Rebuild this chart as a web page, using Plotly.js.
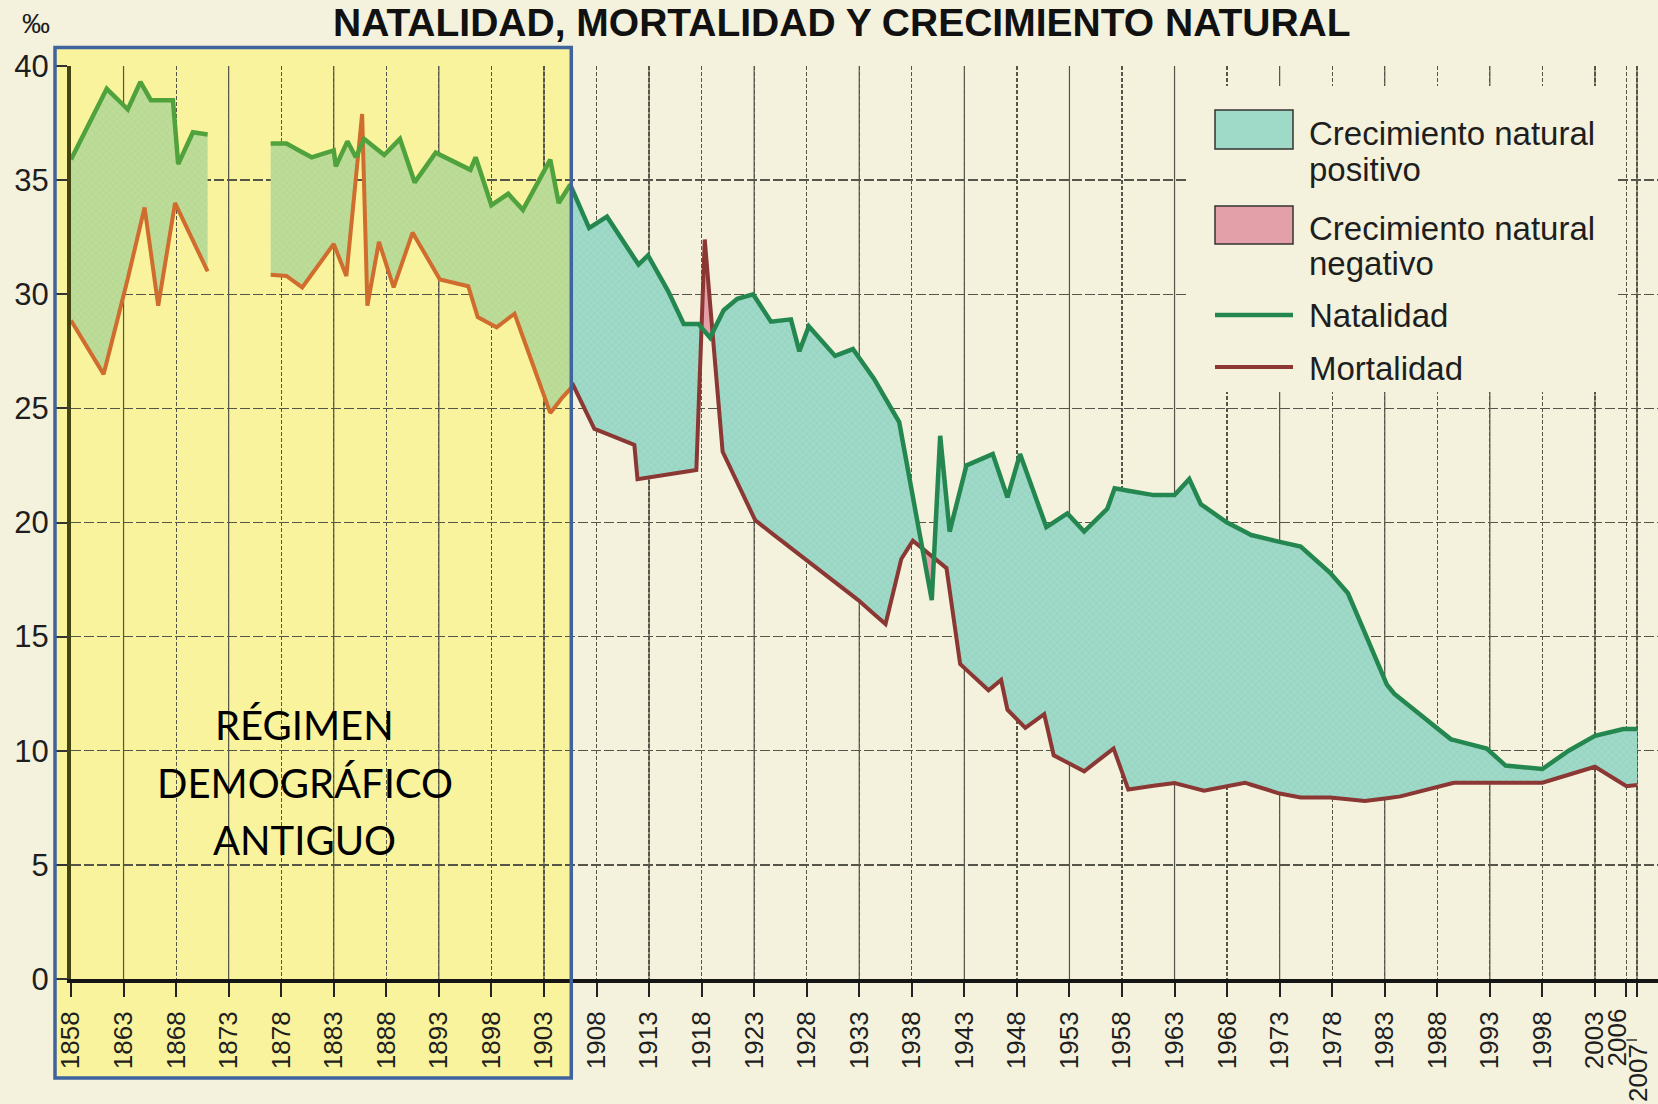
<!DOCTYPE html>
<html><head><meta charset="utf-8">
<script src="https://cdn.plot.ly/plotly-3.0.1.min.js"></script>
<style>html,body{margin:0;padding:0;background:#f4f2dd;}#chart{width:1658px;height:1104px;}</style>
</head><body><div id="chart"></div>
<script>
// ---- data (‰) ----
const natX = [1858,1861.4,1863.4,1864.6,1865.6,1867.7,1868.2,1869.6,1871.0,
  1877.0,1878.5,1880.9,1883.0,1883.2,1884.3,1885.1,1885.9,1887.8,1889.3,1890.7,1892.7,1896.0,1896.5,1898.0,1899.6,1901.0,1903.6,1904.4,1905.5,
  1907.3,1909.0,1912.0,1912.9,1914.8,1916.3,1917.7,1918.8,1920.1,1921.4,1922.9,1924.6,1926.5,1927.3,1928.2,1930.7,1932.4,1934.4,1936.8,1938.6,1939.9,1940.7,1941.6,1943.2,1945.7,1947.1,1948.3,1950.8,1952.8,1954.4,1956.6,1957.3,1961.0,1963.0,1964.4,1965.5,1968.0,1970.3,1973.0,1975.0,1977.8,1979.5,1983.2,1983.9,1989.3,1992.7,1994.5,1998.0,2000.5,2003.0,2005.7,2007.0];
const natY = [35.9,39.0,38.1,39.3,38.5,38.5,35.7,37.1,37.0,
  36.6,36.6,36.0,36.3,35.6,36.7,36.0,36.8,36.1,36.8,34.9,36.2,35.45,36.0,33.9,34.4,33.7,35.9,34.0,34.8,
  32.9,33.4,31.3,31.7,30.15,28.7,28.7,28.1,29.3,29.8,30.0,28.8,28.9,27.5,28.6,27.3,27.6,26.3,24.4,19.9,16.6,23.8,19.6,22.5,23.0,21.1,23.0,19.8,20.4,19.6,20.6,21.5,21.2,21.2,21.9,20.8,20.0,19.45,19.15,18.95,17.8,16.9,12.9,12.5,10.5,10.1,9.35,9.2,10.0,10.65,10.95,10.95];
const morX = [1858,1861.1,1863.0,1865.0,1866.3,1867.9,1871.0,
  1877.0,1878.5,1880.0,1883.0,1884.2,1885.7,1886.2,1887.3,1888.7,1890.5,1893.1,1895.8,1896.7,1898.5,1900.2,1903.6,1904.7,1905.8,
  1907.8,1911.6,1911.9,1917.5,1918.3,1919.4,1920.0,1923.1,1927.8,1932.9,1935.5,1937.0,1938.1,1941.3,1942.6,1945.3,1946.5,1947.1,1948.8,1950.6,1951.5,1954.4,1957.2,1958.6,1962.9,1965.8,1969.7,1972.7,1975.0,1977.8,1981.1,1984.5,1989.6,1998.0,2003.0,2006.0,2007.0];
const morY = [28.85,26.5,29.9,33.8,29.5,34.0,31.0,
  30.85,30.8,30.3,32.2,30.8,37.9,29.5,32.3,30.3,32.7,30.65,30.35,29.0,28.55,29.15,24.8,25.45,26.0,
  24.1,23.4,21.9,22.3,32.4,26.3,23.1,20.1,18.4,16.6,15.55,18.4,19.2,18.0,13.8,12.65,13.1,11.8,11.0,11.6,9.8,9.1,10.1,8.3,8.6,8.25,8.6,8.15,7.95,7.95,7.8,8.0,8.6,8.6,9.3,8.45,8.5];
const dataSegments = [[1858,1871],[1877,2007]];
const xTickVals = [1858,1863,1868,1873,1878,1883,1888,1893,1898,1903,1908,1913,1918,1923,1928,1933,1938,1943,1948,1953,1958,1963,1968,1973,1978,1983,1988,1993,1998,2003,2006,2007];
const xTickLabels = ["1858","1863","1868","1873","1878","1883","1888","1893","1898","1903","1908","1913","1918","1923","1928","1933","1938","1943","1948","1953","1958","1963","1968","1973","1978","1983","1988","1993","1998","2003","2006","2007"];
const yTickVals = [0,5,10,15,20,25,30,35,40];
const titleText = "NATALIDAD, MORTALIDAD Y CRECIMIENTO NATURAL";
const boxLines = ["RÉGIMEN","DEMOGRÁFICO","ANTIGUO"];
const legendItems = [["Crecimiento natural","positivo"],["Crecimiento natural","negativo"],["Natalidad"],["Mortalidad"]];
const BOX_END = 1905.6;

// ---- styling ----
const C = {
  bg:'#f4f2dd', box:'#f8f39c', boxBorder:'#3f639d',
  pos:'#9fd9c7', posFg:'#86c6b3', neg:'#e3a0a8',
  posBox:'#bcdc98', posBoxFg:'#a8cf84', negBox:'#e8b27c',
  nat:'#24874f', mor:'#8b3733', natBox:'#4fa23c', morBox:'#cf6c2e',
  grid:'#55554a', text:'#1e1e1e'
};
const XR = [1858, 1858 + 1587/10.51];
const FONT = 'Liberation Sans, Arial, sans-serif';

function lerp(xs, ys, x){
  for (let i=0;i<xs.length-1;i++){
    if (x>=xs[i] && x<=xs[i+1]){
      if (xs[i+1]===xs[i]) return ys[i];
      const t=(x-xs[i])/(xs[i+1]-xs[i]);
      return ys[i]+t*(ys[i+1]-ys[i]);
    }
  }
  return x<xs[0]?ys[0]:ys[ys.length-1];
}
function section(a,b){
  const set = new Set([a,b]);
  natX.forEach(x=>{ if(x>a&&x<b) set.add(x); });
  morX.forEach(x=>{ if(x>a&&x<b) set.add(x); });
  const xs=[...set].sort((p,q)=>p-q);
  const X=[],N=[],M=[];
  for(let i=0;i<xs.length;i++){
    const n=lerp(natX,natY,xs[i]), m=lerp(morX,morY,xs[i]);
    X.push(xs[i]);N.push(n);M.push(m);
    if(i<xs.length-1){
      const n2=lerp(natX,natY,xs[i+1]), m2=lerp(morX,morY,xs[i+1]);
      const d0=n-m, d1=n2-m2;
      if(d0*d1<0){
        const t=d0/(d0-d1);
        const xc=xs[i]+t*(xs[i+1]-xs[i]); const yc=n+t*(n2-n);
        X.push(xc);N.push(yc);M.push(yc);
      }
    }
  }
  return {X,N,M};
}
const segs = [];
dataSegments.forEach(([a,b])=>{
  if (a<BOX_END && b>BOX_END){
    segs.push({s:section(a,BOX_END),inBox:true});
    segs.push({s:section(BOX_END,b),inBox:false});
  } else segs.push({s:section(a,b),inBox:b<=BOX_END});
});

const traces=[];
const base={mode:'lines',hoverinfo:'skip',showlegend:false};
segs.forEach(({s,inBox})=>{
  const lo=s.N.map((v,i)=>Math.min(v,s.M[i]));
  const hi=s.N.map((v,i)=>Math.max(v,s.M[i]));
  traces.push(Object.assign({x:s.X,y:lo,line:{width:0}},base));
  traces.push(Object.assign({x:s.X,y:s.N,line:{width:0},fill:'tonexty',
    fillcolor:inBox?C.posBox:C.pos,
    fillpattern:{shape:'x',size:5,solidity:0.12,bgcolor:inBox?C.posBox:C.pos,fgcolor:inBox?C.posBoxFg:C.posFg}},base));
  traces.push(Object.assign({x:s.X,y:s.N,line:{width:0}},base));
  traces.push(Object.assign({x:s.X,y:hi,line:{width:0},fill:'tonexty',fillcolor:inBox?C.negBox:C.neg},base));
});
segs.forEach(({s,inBox})=>{
  traces.push(Object.assign({x:s.X,y:s.M,line:{color:inBox?C.morBox:C.mor,width:4}},base));
  traces.push(Object.assign({x:s.X,y:s.N,line:{color:inBox?C.natBox:C.nat,width:4.5}},base));
});

// pixel helpers (layout: l=71, r=0, t=66, b=125)
const L=71, T=66, W=1587, H=913;
const px=(p)=>(p-L)/W, py=(p)=>(T+H-p)/H;
const xPaper=(v)=>(v-XR[0])/(XR[1]-XR[0]);

const shapes=[];
shapes.push({type:'rect',xref:'paper',yref:'paper',x0:px(55),x1:xPaper(BOX_END),y0:py(1078),y1:py(47.6),
  fillcolor:C.box,line:{width:0},layer:'below'});
xTickVals.forEach((v,i)=>{ if(i%2===1) shapes.push({type:'line',xref:'x',yref:'paper',x0:v,x1:v,y0:0,y1:1,
  line:{color:C.grid,width:1.2},layer:'below'}); });
shapes.push({type:'rect',xref:'paper',yref:'paper',x0:px(55),x1:xPaper(BOX_END),y0:py(1078),y1:py(47.6),
  fillcolor:'rgba(0,0,0,0)',line:{width:3.5,color:C.boxBorder},layer:'above'});
// legend
shapes.push({type:'rect',xref:'paper',yref:'paper',x0:px(1188),x1:px(1618),y0:py(392),y1:py(86),fillcolor:C.bg,line:{width:0},layer:'above'});
shapes.push({type:'rect',xref:'paper',yref:'paper',x0:px(1215),x1:px(1293),y0:py(149),y1:py(110),fillcolor:C.pos,line:{width:1.5,color:'#333'},layer:'above'});
shapes.push({type:'rect',xref:'paper',yref:'paper',x0:px(1215),x1:px(1293),y0:py(244),y1:py(206),fillcolor:C.neg,line:{width:1.5,color:'#333'},layer:'above'});
shapes.push({type:'line',xref:'paper',yref:'paper',x0:px(1215),x1:px(1293),y0:py(315),y1:py(315),line:{width:4.5,color:C.nat},layer:'above'});
shapes.push({type:'line',xref:'paper',yref:'paper',x0:px(1215),x1:px(1293),y0:py(367),y1:py(367),line:{width:4,color:C.mor},layer:'above'});
// small leader line under the 2006/2007 ticks
shapes.push({type:'line',xref:'x',yref:'paper',x0:xTickVals[xTickVals.length-2],x1:xTickVals[xTickVals.length-1],
  y0:py(1040),y1:py(1040),line:{width:1.5,color:'#333'}});

const ann=[];
const legY=[[134,169],[228,263],[315],[368]];
legendItems.forEach((lines,i)=>lines.forEach((t,j)=>ann.push({xref:'paper',yref:'paper',x:px(1307),y:py(legY[i][j]),
  xanchor:'left',yanchor:'middle',showarrow:false,text:t,font:{family:FONT,size:33,color:C.text}})));
const boxY=[725,782.5,839.6];
boxLines.forEach((t,i)=>ann.push({xref:'paper',yref:'paper',x:px(304.5),y:py(boxY[i]),xanchor:'center',yanchor:'middle',
  showarrow:false,text:t,font:{family:'Lato, Open Sans, sans-serif',size:40,color:'#000'}}));
ann.push({xref:'paper',yref:'paper',x:px(842),y:py(22),xanchor:'center',yanchor:'middle',showarrow:false,text:'<b>'+titleText+'</b>',
  font:{family:FONT,size:39,color:'#111'}});
ann.push({xref:'paper',yref:'paper',x:px(36),y:py(24),xanchor:'center',yanchor:'middle',showarrow:false,text:'‰',
  font:{family:FONT,size:28,color:C.text}});
// last two year labels are drawn apart from the axis (they sit crowded in the original)
const nT = xTickVals.length;
const lastLabelPos = [{top:1006, shift:-9},{top:1042, shift:1}];
[nT-2, nT-1].forEach((k,j)=>ann.push({xref:'x',yref:'paper',x:xTickVals[k],y:py(lastLabelPos[j].top),xshift:lastLabelPos[j].shift,
  xanchor:'center',yanchor:'top',textangle:-90,showarrow:false,text:xTickLabels[k],font:{family:FONT,size:26,color:C.text}}));

const tickText = xTickLabels.map((t,i)=> i>=nT-2 ? '' : t);

const layout={
  width:1658,height:1104,margin:{l:L,r:0,t:T,b:125,pad:0},
  paper_bgcolor:C.bg,plot_bgcolor:'rgba(0,0,0,0)',showlegend:false,
  xaxis:{range:XR,tickvals:xTickVals,ticktext:tickText,tickangle:-90,showgrid:true,gridcolor:C.grid,gridwidth:1.2,griddash:'4px,2px',
    zeroline:false,showline:true,linecolor:'#151515',linewidth:4,ticks:'outside',ticklen:14,tickwidth:2,tickcolor:'#222',
    ticklabelstandoff:4,tickfont:{family:FONT,size:26,color:C.text},fixedrange:true},
  yaxis:{range:[0,40],tickvals:yTickVals,showgrid:true,gridcolor:C.grid,gridwidth:1.3,griddash:'10px,3px',zeroline:false,
    showline:true,linecolor:'#44440f',linewidth:4,ticks:'outside',ticklen:12,tickwidth:2,tickcolor:'#333',ticklabelstandoff:0,
    tickfont:{family:FONT,size:31,color:C.text},fixedrange:true},
  shapes:shapes,annotations:ann
};
Plotly.newPlot('chart',traces,layout,{displayModeBar:false,staticPlot:true});
</script></body></html>
